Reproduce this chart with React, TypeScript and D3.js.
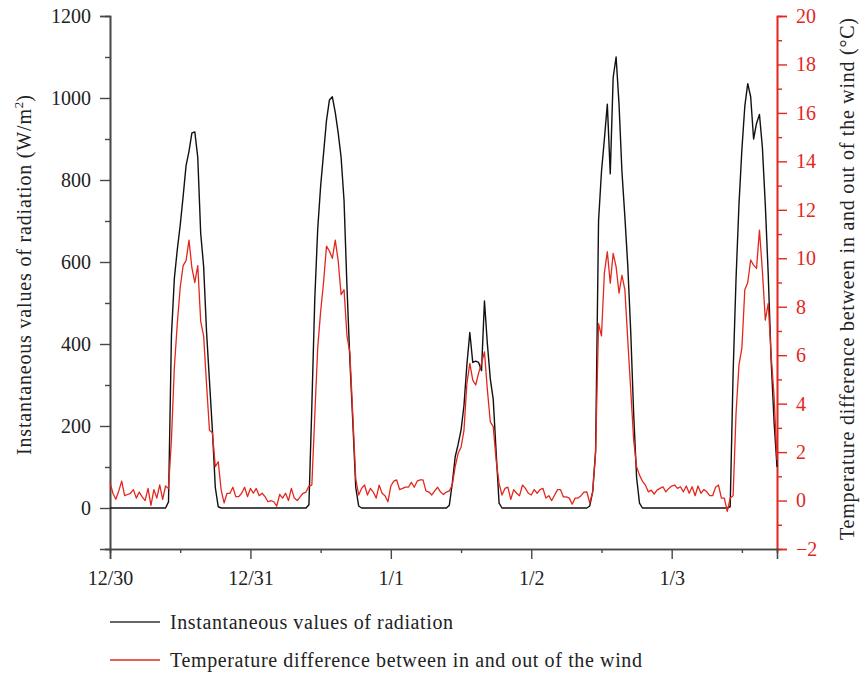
import React, { useRef, useEffect } from 'react';
import * as d3 from 'd3';

// half-hourly samples, starting 12/30 00:00
const STEP_HOURS = 0.5;

const radiation = [
  0, 0, 0, 0, 0, 0, 0, 0, 0, 0, 0, 0, 0, 0, 0, 0, 0, 0, 0, 0,
  15, 420, 560, 630, 690, 760, 835, 870, 915, 917, 855, 670, 590, 430, 310, 190, 50, 3,
  0, 0, 0, 0, 0, 0, 0, 0, 0, 0, 0, 0, 0, 0, 0, 0, 0, 0, 0, 0, 0, 0, 0, 0, 0, 0, 0, 0, 0, 0,
  8, 250, 510, 680, 785, 865, 945, 995, 1003, 965, 915, 855, 750, 540, 360, 210, 50, 5,
  0, 0, 0, 0, 0, 0, 0, 0, 0, 0, 0, 0, 0, 0, 0, 0, 0, 0, 0, 0, 0, 0, 0, 0, 0, 0, 0, 0, 0, 0,
  7, 60, 125, 155, 190, 250, 350, 428, 355, 358, 355, 335, 505, 400, 315, 265, 135, 12,
  0, 0, 0, 0, 0, 0, 0, 0, 0, 0, 0, 0, 0, 0, 0, 0, 0, 0, 0, 0, 0, 0, 0, 0, 0, 0, 0, 0, 0, 0,
  5, 40, 140, 700, 820, 900, 985, 815, 1050, 1100, 985, 820, 710, 590, 430, 230, 75, 12,
  0, 0, 0, 0, 0, 0, 0, 0, 0, 0, 0, 0, 0, 0, 0, 0, 0, 0, 0, 0, 0, 0, 0, 0, 0, 0, 0, 0, 0, 0,
  3, 330, 560, 740, 875, 980, 1035, 1003, 900, 938, 960, 880, 740, 570, 360, 210, 100,
];

const tempDiff = [
  0.75, 0.3, 0.05, 0.4, 0.8, 0.2, 0.25, 0.3, 0.45, 0.1, 0.35, 0.15, 0.0, 0.5, -0.2, 0.45, 0.1, 0.65, 0.05, 0.6,
  0.5, 2.5, 5.5, 7.3, 8.8, 9.7, 9.9, 10.75, 9.6, 9.0, 9.7, 7.4, 6.8, 4.8, 2.9, 2.8, 1.4, 1.6, 0.43, -0.1,
  0.3, 0.3, 0.55, 0.16, 0.16, 0.3, 0.55, 0.16, 0.5, 0.3, 0.5, 0.2, 0.3, 0.16, -0.05, 0.0, -0.05, -0.23, 0.25, 0.1,
  0.3, 0.0, 0.5, 0.1, 0.0, 0.15, 0.3, 0.35,
  0.6, 0.64, 3.5, 6.3, 7.8, 9.0, 10.5, 10.3, 10.0, 10.75, 9.9, 8.5, 8.7, 6.8, 6.1, 3.5, 0.9, 0.23, 0.5,
  0.64, 0.23, 0.5, 0.35, 0.1, 0.64, 0.3, 0.2, -0.05, 0.6, 0.8, 0.85, 0.45, 0.5, 0.55, 0.55, 0.75, 0.55, 0.8, 0.85,
  0.85, 0.4, 0.35, 0.23, 0.4, 0.55, 0.35, 0.25, 0.35,
  0.4, 0.64, 1.4, 1.95, 2.2, 2.9, 4.84, 5.66, 4.97, 4.77, 5.26, 5.67, 6.14, 4.56, 3.25, 3.05, 1.67, 0.7, 0.23,
  0.5, 0.55, 0.05, 0.45, 0.3, 0.2, 0.64, 0.5, 0.3, 0.23, 0.45, 0.3, 0.45, 0.5, 0.1, 0.2, 0.0, 0.23, 0.45, 0.45,
  0.15, 0.15, 0.1, -0.15, 0.1, 0.1, 0.2, 0.35,
  0.36, -0.1, 0.36, 2.0, 7.3, 6.8, 9.4, 10.27, 8.97, 10.2, 9.65, 8.56, 9.3, 8.7, 6.6, 4.56, 2.5, 1.4, 1.05, 0.8,
  0.64, 0.36,
  0.43, 0.27, 0.43, 0.5, 0.57, 0.36, 0.5, 0.6, 0.64, 0.5, 0.57, 0.36, 0.6, 0.3, 0.57, 0.2, 0.6, 0.3, 0.45, 0.36,
  0.2, 0.2, 0.55, 0.64, 0.1, 0.1,
  -0.45, 0.1, 0.2, 3.6, 5.6, 6.3, 8.7, 9.0, 9.93, 9.72, 9.58, 11.16, 9.5, 7.45, 8.14, 6.0, 4.3, 1.67,
];

const dayTicks = [0, 24, 48, 72, 96];
const dayLabels = ['12/30', '12/31', '1/1', '1/2', '1/3'];
const noonTicks = [12, 36, 60, 84, 108];
const leftMajor = [0, 200, 400, 600, 800, 1000, 1200];
const leftMinor = [-100, 100, 300, 500, 700, 900, 1100];
const rightMajor = [-2, 0, 2, 4, 6, 8, 10, 12, 14, 16, 18, 20];
const rightMinor = [-1, 1, 3, 5, 7, 9, 11, 13, 15, 17, 19];

const FONT = '"Liberation Serif", "DejaVu Serif", serif';
const RED = '#e3271d';
const AXIS = '#474747';

const App = () => {
    const ref = useRef(null);

    useEffect(() => {
        const svg = d3.select(ref.current);
        svg.selectAll('*').remove();

        const margin = { top: 16, right: 83, bottom: 124, left: 110 };
        const width = 860 - margin.left - margin.right;
        const height = 673 - margin.top - margin.bottom;

        const g = svg.append('g').attr('transform', `translate(${margin.left},${margin.top})`);

        const x = d3.scaleLinear().domain([0, 114]).range([0, width]);
        const yL = d3.scaleLinear().domain([-100, 1200]).range([height, 0]);
        const yR = d3.scaleLinear().domain([-2, 20]).range([height, 0]);

        const styleAxis = (sel, color, textColor) => {
            sel.select('.domain').attr('stroke', color).attr('stroke-width', 1.6);
            sel.selectAll('.tick line').attr('stroke', color).attr('stroke-width', 1.4);
            sel.selectAll('.tick text')
                .attr('fill', textColor)
                .style('font-family', FONT)
                .style('font-size', '20px');
        };

        // left axis
        g.append('g')
            .call(d3.axisLeft(yL).tickValues(leftMinor).tickSize(5).tickFormat(() => ''))
            .call(s => styleAxis(s, AXIS, '#222'));
        g.append('g')
            .call(d3.axisLeft(yL).tickValues(leftMajor).tickSize(10).tickPadding(9).tickFormat(d3.format('d')))
            .call(s => styleAxis(s, AXIS, '#222'));

        // right axis
        g.append('g')
            .attr('transform', `translate(${width},0)`)
            .call(d3.axisRight(yR).tickValues(rightMinor).tickSize(5).tickFormat(() => ''))
            .call(s => styleAxis(s, RED, RED));
        g.append('g')
            .attr('transform', `translate(${width},0)`)
            .call(d3.axisRight(yR).tickValues(rightMajor).tickSize(10).tickPadding(9)
                .tickFormat(d => (d < 0 ? '\u2212' + Math.abs(d) : String(d))))
            .call(s => styleAxis(s, RED, RED));

        // bottom axis
        g.append('g')
            .attr('transform', `translate(0,${height})`)
            .call(d3.axisBottom(x).tickValues(noonTicks).tickSize(4).tickFormat(() => ''))
            .call(s => styleAxis(s, AXIS, '#222'));
        g.append('g')
            .attr('transform', `translate(0,${height})`)
            .call(d3.axisBottom(x).tickValues(dayTicks).tickSize(10).tickPadding(12)
                .tickFormat((d, i) => dayLabels[i]))
            .call(s => styleAxis(s, AXIS, '#222'));

        // lines
        const lineL = d3.line().x((d, i) => x(i * STEP_HOURS)).y(d => yL(d));
        const lineR = d3.line().x((d, i) => x(i * STEP_HOURS)).y(d => yR(d));

        g.append('path')
            .datum(radiation)
            .attr('fill', 'none')
            .attr('stroke', '#111')
            .attr('stroke-width', 1.4)
            .attr('stroke-linejoin', 'round')
            .attr('d', lineL);

        g.append('path')
            .datum(tempDiff)
            .attr('fill', 'none')
            .attr('stroke', RED)
            .attr('stroke-width', 1.3)
            .attr('stroke-linejoin', 'round')
            .attr('d', lineR);

        // axis titles
        const leftTitle = svg.append('text')
            .attr('transform', 'translate(31,275) rotate(-90)')
            .attr('text-anchor', 'middle')
            .attr('fill', '#222')
            .style('font-family', FONT)
            .style('font-size', '20px');
        leftTitle.append('tspan').attr('textLength', 346).attr('lengthAdjust', 'spacing')
            .text('Instantaneous values of radiation (W/m');
        leftTitle.append('tspan').attr('dy', -8).style('font-size', '13px').text('2');
        leftTitle.append('tspan').attr('dy', 8).text(')');

        svg.append('text')
            .attr('transform', 'translate(854,279) rotate(-90)')
            .attr('text-anchor', 'middle')
            .attr('textLength', 522)
            .attr('lengthAdjust', 'spacing')
            .attr('fill', '#222')
            .style('font-family', FONT)
            .style('font-size', '20px')
            .text('Temperature difference between in and out of the wind (\u00b0C)');

        // legend
        const legendItems = [
            { label: 'Instantaneous values of radiation', color: '#333', len: 283 },
            { label: 'Temperature difference between in and out of the wind', color: RED, len: 472 },
        ];
        const legend = svg.append('g').attr('transform', 'translate(110,622)');
        legendItems.forEach((item, i) => {
            legend.append('line')
                .attr('x1', 0)
                .attr('x2', 50)
                .attr('y1', i * 38)
                .attr('y2', i * 38)
                .attr('stroke', item.color)
                .attr('stroke-width', 1.4);
            legend.append('text')
                .attr('x', 60)
                .attr('y', i * 38 + 7)
                .attr('textLength', item.len)
                .attr('lengthAdjust', 'spacing')
                .attr('fill', '#222')
                .style('font-family', FONT)
                .style('font-size', '20px')
                .text(item.label);
        });
    }, []);

    return (
        <svg
            ref={ref}
            width={860}
            height={673}
            style={{ position: 'fixed', top: 0, left: 0, display: 'block', background: '#fff' }}
        ></svg>
    );
};

export default App;
